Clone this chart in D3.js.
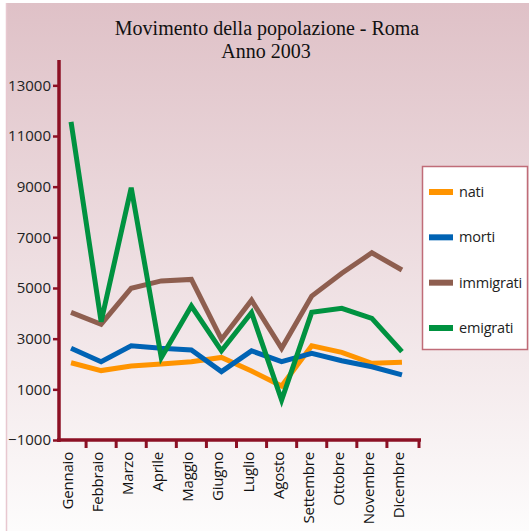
<!DOCTYPE html>
<html>
<head>
<meta charset="utf-8">
<script src="https://cdn.jsdelivr.net/npm/d3@7"></script>
<style>
  body { margin: 0; background: #fff; }
  svg { display: block; }
  .tick text { font-family: "Open Sans", sans-serif; font-size: 15px; fill: #222; }
</style>
</head>
<body>
<div class="chart"></div>
<script>
// Chart data
const months = ["Gennaio", "Febbraio", "Marzo", "Aprile", "Maggio", "Giugno",
  "Luglio", "Agosto", "Settembre", "Ottobre", "Novembre", "Dicembre"];
const nati = [2050, 1740, 1920, 2000, 2090, 2260, 1720, 1130, 2720, 2460, 2030, 2070];
const morti = [2620, 2090, 2720, 2620, 2550, 1700, 2520, 2090, 2420, 2130, 1890, 1570];
const immigrati = [4040, 3570, 4990, 5280, 5340, 2970, 4520, 2620, 4680, 5580, 6390, 5710];
const emigrati = [11560, 3670, 8960, 2250, 4290, 2520, 4030, 580, 4040, 4200, 3800, 2490];
const yTicks = [-1000, 1000, 3000, 5000, 7000, 9000, 11000, 13000];

const seriesNames = ["nati", "morti", "immigrati", "emigrati"];
const seriesColors = ["#ff9400", "#0063b4", "#8e5e4f", "#009240"];
const seriesData = [nati, morti, immigrati, emigrati];

const svgWidth = 529;
const svgHeight = 531;
const axisColor = "#8c1024";

const svg = d3.select(".chart")
  .append("svg")
  .attr("width", svgWidth)
  .attr("height", svgHeight);

// background gradient
const grad = svg.append("defs").append("linearGradient")
  .attr("id", "bg")
  .attr("x1", 0).attr("y1", 0).attr("x2", 0).attr("y2", 1);
grad.append("stop").attr("offset", "0%").attr("stop-color", "#dfc1c7");
grad.append("stop").attr("offset", "100%").attr("stop-color", "#fdfcfc");

svg.append("rect")
  .attr("x", 6).attr("y", 3)
  .attr("width", svgWidth - 6).attr("height", svgHeight - 3)
  .attr("fill", "url(#bg)");
svg.append("line")
  .attr("x1", 6.5).attr("x2", 6.5).attr("y1", 3).attr("y2", svgHeight)
  .attr("stroke", "#e8c8d0").attr("stroke-width", 1.5);

// title
const title = svg.append("text")
  .attr("text-anchor", "middle")
  .style("font-family", "'Liberation Serif', serif")
  .style("font-size", "20px")
  .attr("fill", "#111");
title.append("tspan").attr("x", 267).attr("y", 35).text("Movimento della popolazione - Roma");
title.append("tspan").attr("x", 266).attr("y", 58).text("Anno 2003");

// scales
const x = d3.scaleBand()
  .domain(months)
  .range([56, 417]);

const y = d3.scaleLinear()
  .domain([-1000, 14000])
  .range([440, 60]);

const chartGroup = svg.append("g");

// lines
const line = d3.line()
  .x((d, i) => x(months[i]) + x.bandwidth() / 2)
  .y(d => y(d));

seriesData.forEach((s, k) => {
  chartGroup.append("path")
    .datum(s)
    .attr("d", line)
    .attr("fill", "none")
    .attr("stroke", seriesColors[k])
    .attr("stroke-width", 5)
    .attr("stroke-linejoin", "miter");
});

// y axis
const leftAxis = d3.axisLeft(y)
  .tickValues(yTicks)
  .tickFormat(d3.format("d"))
  .tickSize(6)
  .tickPadding(2);

const yAxis = svg.append("g")
  .attr("transform", "translate(59,0)")
  .call(leftAxis);
yAxis.select(".domain").remove();
yAxis.selectAll(".tick line").attr("stroke", axisColor).attr("stroke-width", 2.5);
yAxis.append("line")
  .attr("x1", 0).attr("x2", 0).attr("y1", 60).attr("y2", 442)
  .attr("stroke", axisColor).attr("stroke-width", 3.5);

// x axis: ticks on band edges
const xAxis = svg.append("g");
xAxis.append("line")
  .attr("x1", 57).attr("x2", 421).attr("y1", 440).attr("y2", 440)
  .attr("stroke", axisColor).attr("stroke-width", 3.5);
xAxis.selectAll(".xtick")
  .data(months.slice(1).concat(["end"]))
  .enter()
  .append("line")
  .attr("x1", d => d === "end" ? 419 : x(d))
  .attr("x2", d => d === "end" ? 419 : x(d))
  .attr("y1", 440).attr("y2", 448)
  .attr("stroke", axisColor).attr("stroke-width", 3);

xAxis.selectAll(".xlabel")
  .data(months)
  .enter()
  .append("text")
  .attr("transform", d => `translate(${x(d) + x.bandwidth() / 2 + 2},452) rotate(-90)`)
  .attr("text-anchor", "end")
  .style("font-family", "'Open Sans', sans-serif")
  .style("font-size", "15px")
  .style("letter-spacing", "-0.2px")
  .attr("fill", "#111")
  .text(d => d);

// legend
const legend = svg.append("g");
legend.append("rect")
  .attr("x", 422.5).attr("y", 166.5)
  .attr("width", 105).attr("height", 183)
  .attr("fill", "#fff")
  .attr("stroke", "#c06c78")
  .attr("stroke-width", 1.5);

const legendY = d3.scalePoint()
  .domain(seriesNames)
  .range([192, 328]);

seriesNames.forEach((name, k) => {
  legend.append("rect")
    .attr("x", 429).attr("y", legendY(name) - 3)
    .attr("width", 24).attr("height", 6)
    .attr("fill", seriesColors[k]);
  legend.append("text")
    .attr("x", 459).attr("y", legendY(name) + 5)
    .style("font-family", "'Open Sans', sans-serif")
    .style("font-size", "14.5px")
    .style("letter-spacing", "-0.2px")
    .attr("fill", "#222")
    .text(name);
});
</script>
</body>
</html>
